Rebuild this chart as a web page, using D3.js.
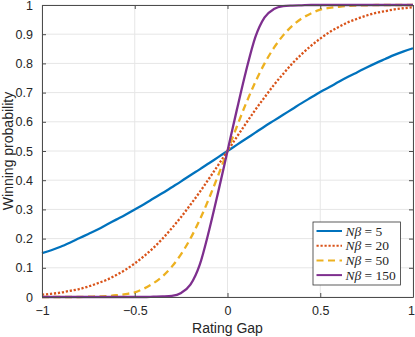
<!DOCTYPE html>
<html>
<head>
<meta charset="utf-8">
<script src="https://cdn.jsdelivr.net/npm/d3@7"></script>
<style>
  body { margin: 0; background: #fff; }
  text { font-family: "Liberation Sans", Arial, sans-serif; fill: #262626; }
</style>
</head>
<body>
<div id="chart"></div>
<script>
// rating gap samples
var gaps = [-1, -0.95, -0.9, -0.85, -0.8, -0.75, -0.7, -0.65, -0.6, -0.55, -0.5,
    -0.45, -0.4, -0.35, -0.3, -0.25, -0.2, -0.15, -0.1, -0.05, 0,
    0.05, 0.1, 0.15, 0.2, 0.25, 0.3, 0.35, 0.4, 0.45, 0.5,
    0.55, 0.6, 0.65, 0.7, 0.75, 0.8, 0.85, 0.9, 0.95, 1]

var nb5 = [0.150, 0.160, 0.172, 0.186, 0.201, 0.216, 0.231, 0.248, 0.265, 0.282, 0.300,
    0.318, 0.337, 0.356, 0.376, 0.396, 0.417, 0.437, 0.458, 0.479, 0.500,
    0.521, 0.542, 0.563, 0.584, 0.604, 0.624, 0.644, 0.664, 0.683, 0.702,
    0.719, 0.737, 0.754, 0.770, 0.786, 0.801, 0.815, 0.829, 0.841, 0.852]

var nb20 = [0.008, 0.011, 0.015, 0.021, 0.027, 0.036, 0.047, 0.059, 0.075, 0.093, 0.115,
    0.140, 0.168, 0.200, 0.236, 0.274, 0.316, 0.359, 0.405, 0.452, 0.500,
    0.548, 0.595, 0.641, 0.684, 0.726, 0.764, 0.800, 0.832, 0.860, 0.885,
    0.907, 0.925, 0.941, 0.953, 0.964, 0.973, 0.979, 0.985, 0.989, 0.992]

var nb50 = [0, 0, 0, 0, 0, 0.001, 0.002, 0.003, 0.006, 0.010, 0.016,
    0.029, 0.047, 0.071, 0.104, 0.147, 0.200, 0.264, 0.337, 0.417, 0.500,
    0.583, 0.663, 0.736, 0.800, 0.853, 0.896, 0.929, 0.954, 0.971, 0.984,
    0.990, 0.994, 0.997, 0.998, 0.999, 1, 1, 1, 1, 1]

var nb150 = [0, 0, 0, 0, 0, 0, 0, 0, 0, 0, 0,
    0, 0.001, 0.002, 0.004, 0.014, 0.042, 0.110, 0.226, 0.360, 0.500,
    0.640, 0.774, 0.890, 0.958, 0.986, 0.996, 0.998, 0.999, 1, 1,
    1, 1, 1, 1, 1, 1, 1, 1, 1, 1]

var seriesNames = ["5", "20", "50", "150"]
var seriesColors = ["#0072BD", "#D95319", "#EDB120", "#7E2F8E"]
var seriesDash = [null, "2.2,1.8", "7,4.5", null]
var xTicks = [-1, -0.5, 0, 0.5, 1]
var yTicks = [0, 0.1, 0.2, 0.3, 0.4, 0.5, 0.6, 0.7, 0.8, 0.9, 1]

var allSeries = [nb5, nb20, nb50, nb150]

const margin = { top: 5, right: 2, bottom: 40, left: 42 };
const width = 415 - margin.left - margin.right;
const height = 337 - margin.top - margin.bottom;

const x = d3.scaleLinear().domain([-1, 1]).range([0, width]);
const y = d3.scaleLinear().domain([0, 1]).range([height, 0]);

var svg = d3.select("#chart")
    .append("svg")
    .attr("width", 415)
    .attr("height", 337)
    .append("g")
    .attr("transform", `translate(${margin.left},${margin.top})`)

// grid
svg.append("g")
    .selectAll("line")
    .data(xTicks)
    .enter().append("line")
    .attr("x1", d => x(d)).attr("x2", d => x(d))
    .attr("y1", 0).attr("y2", height)
    .attr("stroke", "#e6e6e6")
svg.append("g")
    .selectAll("line")
    .data(yTicks)
    .enter().append("line")
    .attr("x1", 0).attr("x2", width)
    .attr("y1", d => y(d)).attr("y2", d => y(d))
    .attr("stroke", "#e6e6e6")

const line = d3.line()
    .x((d, i) => x(gaps[i]))
    .y(d => y(d))
    .curve(d3.curveMonotoneX)

allSeries.forEach(function (s, k) {
    svg.append("path")
        .datum(s)
        .attr("fill", "none")
        .attr("stroke", seriesColors[k])
        .attr("stroke-width", 2.3)
        .attr("stroke-dasharray", seriesDash[k])
        .attr("d", line)
})

// axes, box on, ticks inward
function styleAxis(g) {
    g.select(".domain").attr("stroke", "#4d4d4d")
    g.selectAll(".tick line").attr("stroke", "#4d4d4d")
    g.selectAll(".tick text").attr("font-size", 12.5).attr("fill", "#262626")
        .attr("font-family", "Liberation Sans, Arial, sans-serif")
}
var xAxisG = svg.append("g")
    .attr("transform", `translate(0,${height})`)
    .call(d3.axisBottom(x).tickValues(xTicks).tickFormat(d3.format("")).tickSizeInner(-4).tickSizeOuter(0).tickPadding(9))
    .call(styleAxis)
// keep the last label inside the page
xAxisG.selectAll(".tick text").filter(d => d == 1).attr("dx", -2)

svg.append("g")
    .call(d3.axisLeft(y).tickValues(yTicks).tickFormat(d3.format("")).tickSizeInner(-4).tickSizeOuter(0).tickPadding(9))
    .call(styleAxis)
svg.append("g")
    .call(d3.axisTop(x).tickValues(xTicks).tickFormat("").tickSizeInner(-4).tickSizeOuter(0))
    .call(styleAxis)
svg.append("g")
    .attr("transform", `translate(${width},0)`)
    .call(d3.axisRight(y).tickValues(yTicks).tickFormat("").tickSizeInner(-4).tickSizeOuter(0))
    .call(styleAxis)

svg.append("text")
    .attr("x", width / 2)
    .attr("y", height + 36)
    .attr("text-anchor", "middle")
    .attr("font-size", 14)
    .text("Rating Gap")

svg.append("text")
    .attr("transform", `translate(${-29},${height / 2}) rotate(-90)`)
    .attr("text-anchor", "middle")
    .attr("font-size", 14)
    .text("Winning probability")

// legend
var lg = svg.append("g").attr("transform", `translate(${271},${217})`)
lg.append("rect")
    .attr("width", 87.5).attr("height", 63)
    .attr("fill", "#fff").attr("stroke", "#333").attr("stroke-width", 0.8)
seriesNames.forEach(function (n, k) {
    var yy = 9 + k * 14.7
    lg.append("line")
        .attr("x1", 3.5).attr("x2", 29)
        .attr("y1", yy).attr("y2", yy)
        .attr("stroke", seriesColors[k])
        .attr("stroke-width", 2)
        .attr("stroke-dasharray", seriesDash[k])
    var t = lg.append("text")
        .attr("x", 32.5).attr("y", yy + 4.5)
        .attr("font-size", 13.5)
        .style("font-family", "Liberation Serif, serif")
    t.append("tspan").attr("font-style", "italic").text("Nβ")
    t.append("tspan").text(" = " + n)
})
</script>
</body>
</html>
